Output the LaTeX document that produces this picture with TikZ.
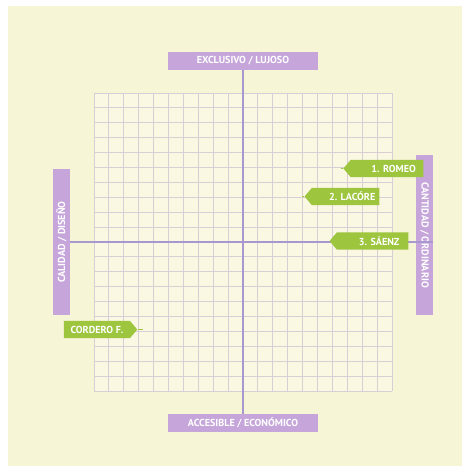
\documentclass[tikz,border=0pt]{standalone}
\usepackage{fontspec}
\setmainfont{PT Sans}
\usetikzlibrary{shapes.symbols}
\definecolor{cream}{HTML}{F6F5D6}
\definecolor{gridfill}{HTML}{FAF8E3}
\definecolor{gridline}{HTML}{D8CFD6}
\definecolor{axis}{HTML}{A898CF}
\definecolor{lav}{HTML}{C6A6DA}
\definecolor{tagg}{HTML}{9DC53E}
\tikzset{
  axlabel/.style={fill=lav, text=white, font=\fontsize{7.6}{8}\selectfont\bfseries, inner sep=0pt, minimum height=13.5pt, minimum width=112.5pt},
  vlabel/.style={axlabel, minimum width=110pt, minimum height=12.8pt},
  tagbox/.style={signal, fill=tagg, text=white, font=\fontsize{7.6}{8}\selectfont\bfseries, inner sep=1pt, minimum height=12.8pt, signal pointer angle=100},
  gridln/.style={draw=gridline, line width=0.7pt},
  axln/.style={draw=axis, line width=0.9pt},
  tagln/.style={draw=tagg, line width=0.9pt}
}
\begin{document}
\begin{tikzpicture}[x=0.75pt,y=-0.75pt]
\useasboundingbox (0,0) rectangle (469,472);
\fill[white] (0,0) rectangle (469,472);
\fill[cream] (8,6) rectangle (462,466);
\fill[gridfill] (94,93) rectangle (392,391);
\foreach \i in {0,...,20} {
  \draw[gridln] ({94+\i*14.9},93) -- ({94+\i*14.9},391);
  \draw[gridln] (94,{93+\i*14.9}) -- (392,{93+\i*14.9});
}
% axis labels
\node[axlabel] (top) at (243,61) {EXCLUSIVO / LUJOSO};
\node[axlabel] (bot) at (243,423) {ACCESIBLE / ECONÓMICO};
\node[vlabel, rotate=90] (left) at (61.5,242) {CALIDAD / DISEÑO};
\node[vlabel, rotate=-90, minimum width=120pt] (right) at (424.5,235) {CANTIDAD / ORDINARIO};
% axes
\draw[axln] (top.south) -- (bot.north);
\draw[axln] (left.south) -- (right.north |- left.south);
% tags
\node[tagbox, signal to=west, minimum width=60pt] (t1) at (387,168.5) {\hspace{10pt}1. ROMEO};
\node[tagbox, signal to=west, minimum width=56pt] (t2) at (345.5,196.5) {\hspace{10pt}2. LACÓRE};
\node[tagbox, signal to=west, minimum width=59pt] (t3) at (372.5,241) {\hspace{10pt}3. SÁENZ};
\node[tagbox, signal to=east, minimum width=55pt] (t4) at (97,329.5) {CORDERO F.\hspace{8pt}};
\coordinate (e1) at (341,168.5);
\coordinate (e2) at (302,196.5);
\coordinate (e4) at (143,329.5);
\draw[tagln] (t1.west) -- (e1);
\draw[tagln] (t2.west) -- (e2);
\draw[tagln] (t4.east) -- (e4);
\end{tikzpicture}
\end{document}
